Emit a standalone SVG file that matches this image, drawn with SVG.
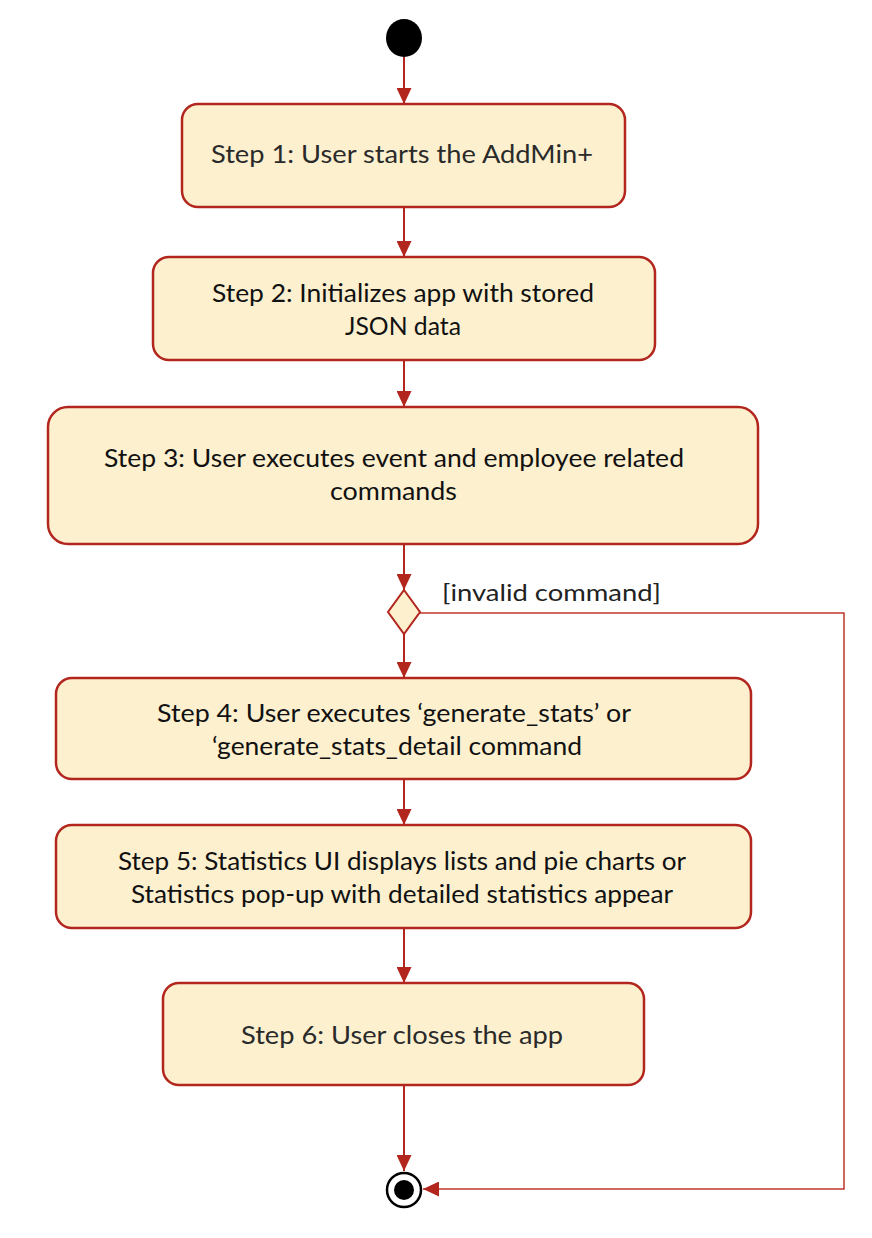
<svg xmlns="http://www.w3.org/2000/svg" width="872" height="1238" viewBox="0 0 872 1238">
<defs>
<style>
.box{fill:#FCF0CF;stroke:#B3261E;stroke-width:2.5}
.t{font-family:Lato,"Open Sans","Liberation Sans",sans-serif;font-size:25px;fill:#111}
.t2{font-family:Lato,"Open Sans","Liberation Sans",sans-serif;font-size:25px;fill:#2a2a2a}
.c{fill:none;stroke:#B3261E;stroke-width:2}
.c2{fill:none;stroke:#C0392B;stroke-width:1.5}
.lbl{font-family:Lato,"Open Sans","Liberation Sans",sans-serif;font-size:24px;fill:#222}
</style>
<marker id="arr" viewBox="0 0 16 15" refX="16" refY="7.5" markerWidth="16" markerHeight="15" markerUnits="userSpaceOnUse" orient="auto">
<path d="M0,0 L16,7.5 L0,15 Z" fill="#B3261E"/>
</marker>
</defs>
<rect width="872" height="1238" fill="#fff"/>
<g id="connectors">
<line class="c" x1="404" y1="57" x2="404" y2="104" marker-end="url(#arr)"/>
<line class="c" x1="404" y1="207" x2="404" y2="257" marker-end="url(#arr)"/>
<line class="c" x1="404" y1="360" x2="404" y2="407" marker-end="url(#arr)"/>
<line class="c" x1="404" y1="544" x2="404" y2="590" marker-end="url(#arr)"/>
<line class="c" x1="404" y1="634" x2="404" y2="678" marker-end="url(#arr)"/>
<line class="c" x1="404" y1="779" x2="404" y2="825" marker-end="url(#arr)"/>
<line class="c" x1="404" y1="928" x2="404" y2="983" marker-end="url(#arr)"/>
<line class="c" x1="404" y1="1085" x2="404" y2="1171" marker-end="url(#arr)"/>
<polyline class="c2" points="420,613 844,613 844,1189 423,1189" marker-end="url(#arr)"/>
<text class="lbl" x="442" y="601" textLength="219" lengthAdjust="spacingAndGlyphs">[invalid command]</text>
</g>
<g id="start"><ellipse cx="404" cy="38" rx="18" ry="19" fill="#000"/></g>
<g id="step1">
<rect class="box" x="182" y="104" width="443" height="103" rx="16"/>
<text class="t2" x="211" y="163" textLength="382" lengthAdjust="spacingAndGlyphs">Step 1: User starts the AddMin+</text>
</g>
<g id="step2">
<rect class="box" x="153" y="257" width="502" height="103" rx="16"/>
<text class="t" x="212" y="302" textLength="382" lengthAdjust="spacingAndGlyphs">Step 2: Initializes app with stored</text>
<text class="t" x="345" y="335" textLength="116" lengthAdjust="spacingAndGlyphs">JSON data</text>
</g>
<g id="step3">
<rect class="box" x="48" y="407" width="710" height="137" rx="20"/>
<text class="t" x="104" y="467" textLength="580" lengthAdjust="spacingAndGlyphs">Step 3: User executes event and employee related</text>
<text class="t" x="330" y="500" textLength="127" lengthAdjust="spacingAndGlyphs">commands</text>
</g>
<g id="decision"><polygon points="404,590 420,612 404,634 388,612" fill="#FCF0CF" stroke="#B3261E" stroke-width="2"/></g>
<g id="step4">
<rect class="box" x="56" y="678" width="695" height="101" rx="16"/>
<text class="t" x="157" y="722" textLength="474" lengthAdjust="spacingAndGlyphs">Step 4: User executes ‘generate_stats’ or</text>
<text class="t" x="212" y="755" textLength="370" lengthAdjust="spacingAndGlyphs">‘generate_stats_detail command</text>
</g>
<g id="step5">
<rect class="box" x="56" y="825" width="695" height="103" rx="16"/>
<text class="t" x="118" y="870" textLength="568" lengthAdjust="spacingAndGlyphs">Step 5: Statistics UI displays lists and pie charts or</text>
<text class="t" x="131" y="903" textLength="542" lengthAdjust="spacingAndGlyphs">Statistics pop-up with detailed statistics appear</text>
</g>
<g id="step6">
<rect class="box" x="163" y="983" width="481" height="102" rx="16"/>
<text class="t2" x="241" y="1044" textLength="322" lengthAdjust="spacingAndGlyphs">Step 6: User closes the app</text>
</g>
<g id="end">
<circle cx="404" cy="1190" r="17" fill="#fff" stroke="#000" stroke-width="2.5"/>
<circle cx="404" cy="1190" r="10" fill="#000"/>
</g>
</svg>
